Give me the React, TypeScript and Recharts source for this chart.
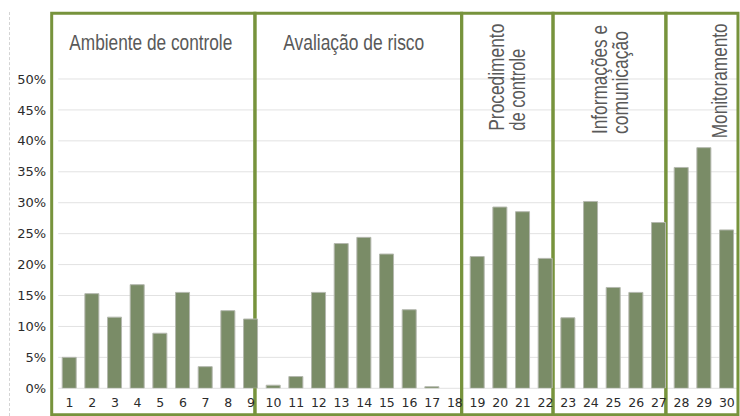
import { Bar, BarChart, CartesianGrid, ReferenceArea, XAxis, YAxis } from 'recharts'

// question number on the x axis
const questions = [
  1, 2, 3, 4, 5, 6, 7, 8, 9, 10, 11, 12, 13, 14, 15,
  16, 17, 18, 19, 20, 21, 22, 23, 24, 25, 26, 27, 28, 29, 30,
]
// share of answers per question
const shares = [
  0.05, 0.153, 0.115, 0.1675, 0.089, 0.155, 0.035, 0.1255, 0.112,
  0.005, 0.019, 0.155, 0.234, 0.244, 0.217, 0.127, 0.0026, 0,
  0.213, 0.293, 0.2855, 0.21,
  0.114, 0.302, 0.163, 0.155, 0.268,
  0.357, 0.389, 0.256,
]
const yTicks = [0, 0.05, 0.1, 0.15, 0.2, 0.25, 0.3, 0.35, 0.4, 0.45, 0.5]

// COSO components drawn as boxes over the questions
const groupTitles = [
  ['Ambiente de controle'],
  ['Avaliação de risco'],
  ['Procedimento', 'de controle'],
  ['Informações e', 'comunicação'],
  ['Monitoramento'],
]
const groupFrom = [0.213, 9.18, 18.3, 22.33, 27.31]
const groupTo = [9.18, 18.3, 22.33, 27.31, 30.49]

// title placement inside each box (offsets from the box's top-left corner)
const titleLayout = [
  { vertical: false, dx: [17.6], dy: 36.7, len: [163] },
  { vertical: false, dx: [28.3], dy: 36.7, len: [141] },
  { vertical: true, dx: [42.3, 63.3], dy: 117.4, len: [107, 82] },
  { vertical: true, dx: [54, 75], dy: 120.7, len: [109, 103] },
  { vertical: true, dx: [61], dy: 125, len: [115] },
]

const data = questions.map((q, i) => ({ q, share: shares[i] }))

const GREEN = '#77933C'
const xTickStyle = { fill: '#2b2b2b', fontSize: 12.5, fontFamily: 'DejaVu Sans' }
const yTickStyle = { fill: '#2b2b2b', fontSize: 13, fontFamily: 'DejaVu Sans' }

function BoxTitle({ viewBox, idx }: { viewBox?: any; idx: number }) {
  if (!viewBox) return null
  const lay = titleLayout[idx]
  const lines = groupTitles[idx]
  return (
    <g>
      {lines.map((line, j) => {
        const x = viewBox.x + lay.dx[j]
        const y = viewBox.y + lay.dy
        return (
          <text
            key={j}
            x={x}
            y={y}
            fill="#595959"
            fontSize={22}
            fontFamily="Liberation Sans, Arial, sans-serif"
            textLength={lay.len[j]}
            lengthAdjust="spacingAndGlyphs"
            transform={lay.vertical ? `rotate(-90 ${x} ${y})` : undefined}
          >
            {line}
          </text>
        )
      })}
    </g>
  )
}

export default function App() {
  return (
    <div style={{ position: 'absolute', left: 0, top: 0, width: 740, height: 416, background: '#fff' }}>
      <div style={{ position: 'absolute', left: 9, top: 12, height: 404, borderLeft: '1px dashed #d4d4d4' }} />
      <BarChart
        width={740}
        height={416}
        data={data}
        margin={{ top: 13.3, right: 1.8, bottom: 0, left: 0 }}
        style={{ position: 'absolute', left: 0, top: 0 }}
      >
        <CartesianGrid vertical={false} stroke="#e2e2e2" />
        <XAxis
          dataKey="q"
          type="number"
          domain={[0.5, 30.5]}
          ticks={questions}
          interval={0}
          height={27.7}
          axisLine={false}
          tickLine={false}
          tickSize={0}
          tickMargin={10}
          tick={xTickStyle}
        />
        <YAxis
          domain={[0, 0.6062]}
          ticks={yTicks}
          allowDataOverflow
          width={58.2}
          axisLine={false}
          tickLine={false}
          tickSize={0}
          tickMargin={12}
          tick={yTickStyle}
          tickFormatter={(v: number) => `${Math.round(v * 100)}%`}
        />
        <Bar dataKey="share" barSize={14} fill="#7A8C67" stroke="#b4b8ae" strokeWidth={1} isAnimationActive={false} />
        {groupTitles.map((_, i) => (
          <ReferenceArea
            key={i}
            x1={groupFrom[i]}
            x2={groupTo[i]}
            y1={-0.0427}
            y2={0.6062}
            ifOverflow="visible"
            fill="none"
            fillOpacity={0}
            stroke={GREEN}
            strokeWidth={3}
            label={(props: any) => <BoxTitle viewBox={props.viewBox} idx={i} />}
          />
        ))}
      </BarChart>
    </div>
  )
}
